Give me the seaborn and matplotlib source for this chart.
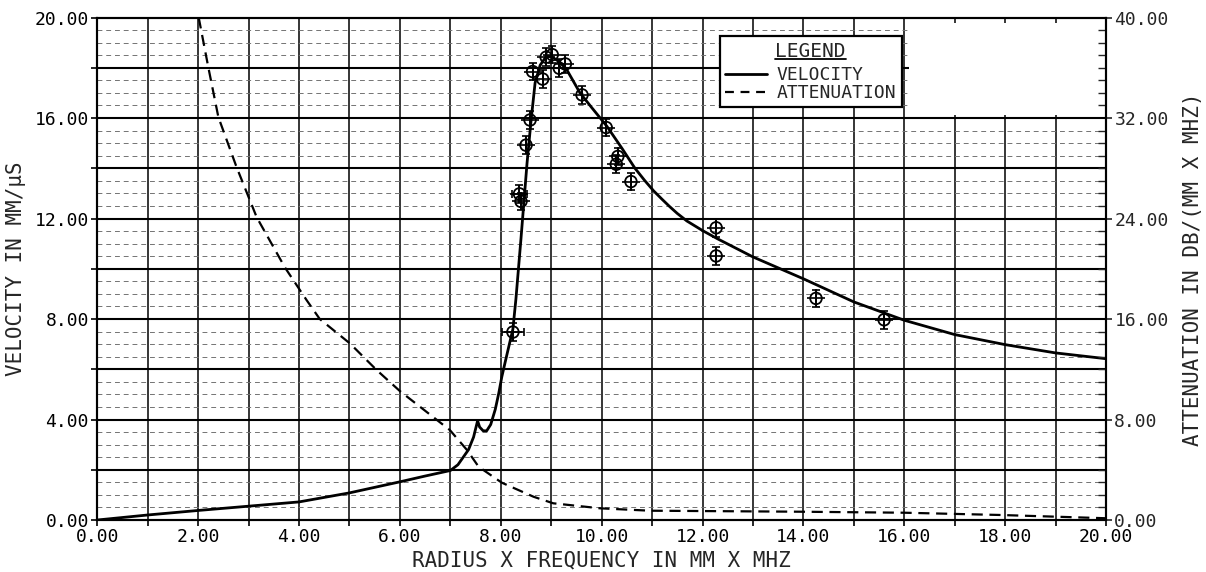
import numpy as np
import pandas as pd
import matplotlib
matplotlib.use("Agg")
import matplotlib.pyplot as plt
from matplotlib.ticker import MultipleLocator, FormatStrFormatter
from matplotlib.patches import Rectangle
from matplotlib.lines import Line2D
import seaborn as sns

# velocity curve (left axis, mm/us)
vel_x = [0.0, 1.0, 2.0, 3.0, 4.0, 5.0, 6.0, 6.5, 7.0, 7.15, 7.36, 7.46, 7.54,
         7.58, 7.65, 7.72, 7.8, 7.89, 7.96, 8.02, 8.1, 8.17, 8.24, 8.3, 8.4, 8.52,
         8.6, 8.68, 8.78, 8.9, 9.0, 9.15, 9.3, 9.57, 9.8, 10.1, 10.4, 10.66,
         10.85, 11.03, 11.2, 11.35, 11.5, 11.69, 12.0, 12.29, 13.0, 14.0, 15.0,
         16.0, 17.0, 18.0, 19.0, 20.0]
vel_y = [0.0, 0.2, 0.38, 0.55, 0.72, 1.08, 1.52, 1.75, 1.97, 2.2, 2.8, 3.3, 3.95,
         3.7, 3.55, 3.55, 3.8, 4.4, 5.05, 5.7, 6.4, 7.0, 7.6, 8.8, 11.2, 14.2,
         15.9, 17.4, 18.1, 18.45, 18.45, 18.25, 17.95, 17.0, 16.42, 15.68, 14.8, 14.0,
         13.52, 13.1, 12.76, 12.47, 12.2, 11.9, 11.52, 11.2, 10.47, 9.6, 8.68,
         7.95, 7.38, 6.98, 6.65, 6.42]

# attenuation curve (right axis, dB/(mm x MHz))
att_x = [2.01, 2.2, 2.4, 2.76, 3.16, 3.72, 4.15, 4.41, 5.01, 5.54, 6.0, 6.99,
         7.33, 7.56, 8.02, 8.65, 9.04, 9.97, 10.96, 13.94, 16.0, 17.9, 20.0]
att_y = [40.0, 36.05, 32.07, 28.1, 24.1, 20.1, 17.5, 16.0, 14.05, 11.93, 10.26, 7.16,
         5.57, 4.24, 2.97, 1.85, 1.33, 0.93, 0.74, 0.66, 0.58, 0.4, 0.14]

# measured velocities
meas_x = [8.24, 8.37, 8.40, 8.50, 8.58, 8.63, 8.83, 8.90, 9.02, 9.16,
          9.28, 9.61, 10.09, 10.32, 10.29, 10.58, 12.27, 12.27, 14.25, 15.60]
meas_y = [7.48, 12.98, 12.68, 14.92, 15.92, 17.85, 17.55, 18.42, 18.52, 17.98,
          18.15, 16.92, 15.62, 14.47, 14.16, 13.47, 11.63, 10.51, 8.82, 7.97]
meas_xerr = [0.22, 0.15, 0, 0, 0, 0, 0, 0, 0, 0,
             0, 0, 0, 0, 0, 0, 0, 0, 0, 0]
meas_yerr = [0.35] * 20

sns.set_style("white")
plt.rcParams['font.family'] = ['DejaVu Sans Mono', 'DejaVu Sans']
FS = 13
LFS = 15

fig = plt.figure(figsize=(12.06, 5.72), dpi=100)
ax = fig.add_axes([0.0807, 0.0909, 0.8364, 0.8785])
ax.set_xlim(0, 20)
ax.set_ylim(0, 20)

# grid drawn like the plotter paper
for gx in np.arange(1, 20, 1):
    ax.axvline(gx, color='black', lw=1.1, zorder=1)
for gy in np.arange(2, 20, 2):
    ax.axhline(gy, color='black', lw=1.5, zorder=1)
for gy in np.arange(0.5, 20, 0.5):
    if gy % 2 != 0:
        ax.axhline(gy, color='0.45', lw=0.7, dashes=(5, 4), zorder=1)

# empty patch of paper to the right of the legend
ax.add_patch(Rectangle((16.1, 16.1), 3.9, 3.7, facecolor='white',
                       edgecolor='none', zorder=2))

vel_df = pd.DataFrame({'x': vel_x, 'y': vel_y})
sns.lineplot(data=vel_df, x='x', y='y', ax=ax, color='black', lw=2,
             sort=False, estimator=None, zorder=4)

ax2 = ax.twinx()
ax2.set_ylim(0, 40)
att_df = pd.DataFrame({'x': att_x, 'y': att_y})
sns.lineplot(data=att_df, x='x', y='y', ax=ax2, color='black', lw=1.6,
             sort=False, estimator=None, zorder=4)
ax2.lines[0].set_dashes((5, 3))

# measured points: open circle with cross hair and error bars
meas_y2 = [2 * v for v in meas_y]
ax2.errorbar(meas_x, meas_y2, xerr=meas_xerr,
             yerr=[2 * e for e in meas_yerr], fmt='none', ecolor='black',
             elinewidth=1.2, capsize=3, capthick=1.2, zorder=5)
sns.scatterplot(x=meas_x, y=meas_y2, ax=ax2, marker='o',
                s=70, facecolor='none', edgecolor='black', linewidth=1.3, zorder=6)
sns.scatterplot(x=meas_x, y=meas_y2, ax=ax2, marker='+',
                s=180, color='black', linewidth=1.2, zorder=6)

# ticks and labels
ax.xaxis.set_major_locator(MultipleLocator(2))
ax.xaxis.set_minor_locator(MultipleLocator(1))
ax.xaxis.set_major_formatter(FormatStrFormatter('%.2f'))
ax.yaxis.set_major_locator(MultipleLocator(4))
ax.yaxis.set_minor_locator(MultipleLocator(2))
ax.yaxis.set_major_formatter(FormatStrFormatter('%.2f'))
ax.tick_params(axis='both', which='both', direction='out', length=4, width=1.2,
               labelsize=FS, pad=2, colors='black')
ax.tick_params(axis='x', which='both', bottom=True, top=False)
ax.tick_params(axis='y', which='both', left=True, right=False)

ax2.yaxis.set_major_locator(MultipleLocator(8))
ax2.yaxis.set_minor_locator(MultipleLocator(1))
ax2.yaxis.set_major_formatter(FormatStrFormatter('%.2f'))
ax2.tick_params(axis='y', which='major', direction='out', length=4, width=1.2,
                labelsize=FS, pad=2)
ax2.tick_params(axis='y', which='minor', direction='in', length=6, width=1.0)
ax2.set_xlim(0, 20)

ax.set_xlabel('RADIUS X FREQUENCY IN MM X MHZ', fontsize=LFS, labelpad=3)
ax.set_ylabel('VELOCITY IN MM/μS', fontsize=LFS, labelpad=6)
ax2.set_ylabel('ATTENUATION IN DB/(MM X MHZ)', fontsize=LFS, labelpad=10)

for a in (ax, ax2):
    for sp in a.spines.values():
        sp.set_color('black')
        sp.set_linewidth(1.5)

# legend box
handles = [Line2D([], [], color='black', lw=2),
           Line2D([], [], color='black', lw=1.6, dashes=(4, 3))]
leg = ax2.legend(handles, ['VELOCITY', 'ATTENUATION'], title='LEGEND',
                 loc='upper left', bbox_to_anchor=(0.617, 0.963),
                 borderaxespad=0, fontsize=13, title_fontsize=14,
                 handlelength=2.3, handletextpad=0.55, labelspacing=0.0,
                 borderpad=0.3, fancybox=False, framealpha=1,
                 edgecolor='black')
leg.get_frame().set_linewidth(1.6)
leg.set_zorder(10)
leg._legend_box.sep = 4

# underline the legend title
fig.canvas.draw()
bb = leg.get_title().get_window_extent().transformed(fig.transFigure.inverted())
fig.add_artist(Line2D([bb.x0, bb.x1], [bb.y0 + 0.002, bb.y0 + 0.002],
                      color='black', lw=1.3, transform=fig.transFigure))

fig.savefig('out.png', dpi=100)
